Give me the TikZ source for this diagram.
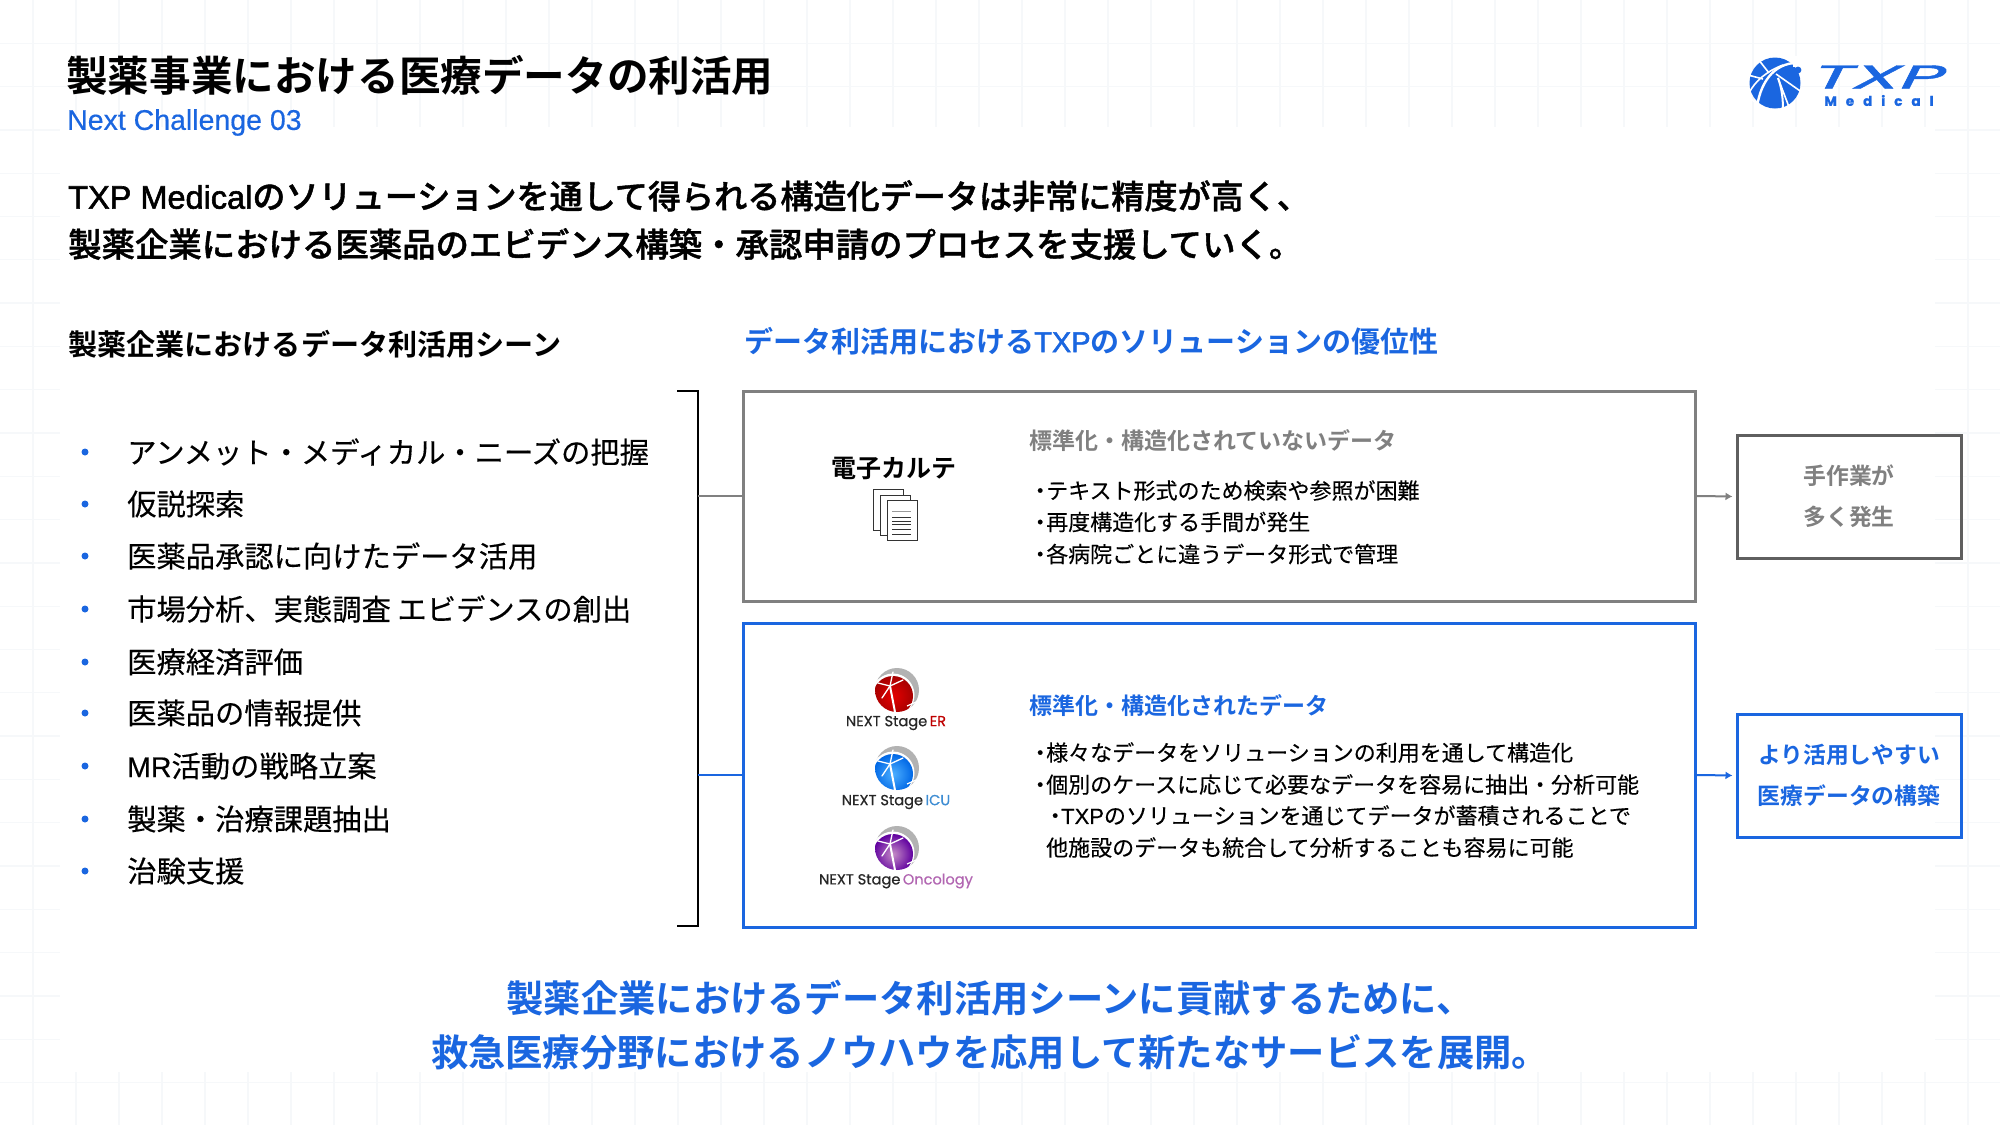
\documentclass[tikz,border=0pt]{standalone}
\usepackage{fontspec}
\setmainfont{Noto Sans CJK JP}
\newfontfamily\jpm[FakeBold=1.2]{Noto Sans CJK JP Medium}
\newfontfamily\jpl[FakeBold=0.25]{Noto Sans CJK JP}
\newfontfamily\jpb{Noto Sans CJK JP Bold}
\newfontfamily\latr{Liberation Sans}
\newfontfamily\latl[FakeBold=0.4]{Liberation Sans}
\newfontfamily\latm[FakeBold=1.8]{Liberation Sans}
\newfontfamily\logof[FakeBold=1.2]{Poppins}
\newfontfamily\stagef[FakeBold=0.6]{Poppins}
\usetikzlibrary{arrows.meta}
\definecolor{bluemain}{HTML}{1A66E0}
\definecolor{gridc}{HTML}{F6F8FA}
\definecolor{greyline}{HTML}{808080}
\definecolor{greybox}{HTML}{5F5F5F}
\newcommand{\fs}[1]{\fontsize{#1}{#1}\selectfont}
\newcommand{\dotb}{・\hspace{-5pt}}
\tikzset{
  txt/.style={inner sep=0pt,anchor=west,text=black},
  titletext/.style={txt,font=\jpb\fs{41.6}},
  leadtext/.style={txt,font=\jpm\fs{33.4}},
  headtext/.style={txt,font=\jpb\fs{29.1}},
  bluehead/.style={txt,font=\jpb\fs{29},text=bluemain},
  listtext/.style={txt,font=\jpl\fs{29.3}},
  listdot/.style={circle,fill=bluemain,inner sep=0pt,minimum size=7pt},
  subhead/.style={txt,font=\jpb\fs{23}},
  bodytext/.style={txt,font=\jpl\fs{22}},
  bottomtext/.style={inner sep=0pt,font=\jpb\fs{37.3},text=bluemain},
  bigbox/.style={draw,line width=3pt,minimum width=952pt,inner sep=0pt},
  sidebox/.style={draw,line width=3pt,minimum width=224pt,minimum height=123pt,inner sep=0pt,align=center,font=\jpb\fs{22.8}},
  link/.style={line width=2pt},
  arrowlink/.style={line width=2pt,-{Latex[length=7pt,width=8pt]},shorten >=3pt},
  bracketline/.style={line width=1.5pt,black},
  sheet/.style={draw=black!80,fill=white,line width=1pt},
  sheetline/.style={black!80,line width=1pt},
  stagelabel/.style={inner sep=0pt,font=\stagef\fs{14.6},text=black!85},
}
% next-stage style globe: #1 centre, #2 light colour, #3 dark colour
\newcommand{\stageglobe}[3]{
  \begin{scope}[shift={#1}]
    \fill[black!30] (0,0) circle (22);
    \fill[white] (-4,5) circle (21.5);
    \begin{scope}
      \clip (0,0) circle (22);
      \shade[inner color=#2,outer color=#3] (-4,6) circle (20);
    \end{scope}
    \draw[white,line width=1.3pt,line cap=round] (-7,-4) -- (-19,-7);
    \draw[white,line width=1.3pt,line cap=round] (-7,-4) -- (-4,-18);
    \draw[white,line width=1.3pt,line cap=round] (-7,-4) -- (6,-10);
    \draw[white,line width=1.3pt,line cap=round] (-7,-4) -- (-15,8);
    \draw[white,line width=2pt] (-7,-4) -- (-2,22);
    \draw[white,line width=1.2pt] (19,12) -- (10,16);
  \end{scope}
}
\begin{document}
\begin{tikzpicture}[x=1pt,y=-1pt]
\useasboundingbox (0,0) rectangle (2000,1125);
\fill[white] (0,0) rectangle (2000,1125);
% faint background grid
\foreach \k in {0,...,45} \draw[gridc,line width=1.3pt] ({33+43*\k},0) -- ({33+43*\k},1125);
\foreach \k in {1,...,25} \draw[gridc,line width=1.3pt] (0,{43.3*\k}) -- (2000,{43.3*\k});
\fill[white] (60,127) rectangle (1935,1072);

% titles
\node[titletext] (title) at (66,75) {製薬事業における医療データの利活用};
\node[txt,font=\latl\fs{28.5},text=bluemain] (sub) at (67,122.5) {Next Challenge 03};
\node[leadtext,font=\jpm\fs{33.1}] (lead1) at (68,196) {{\latm\fs{32.5}TXP Medical}のソリューションを通して得られる構造化データは非常に精度が高く、};
\node[leadtext] (lead2) at (68,244) {製薬企業における医薬品のエビデンス構築・承認申請のプロセスを支援していく。};
\node[headtext] (lefthead) at (68,344) {製薬企業におけるデータ利活用シーン};
\node[bluehead] (righthead) at (744,341) {データ利活用における{\latm\fs{29}TXP}のソリューションの優位性};

% logo
\begin{scope}[shift={(1775,83)}]
  \fill[bluemain] (0,0) circle (25.5);
  \fill[white] (18,-27) rectangle (30,-16);
  \draw[white,line width=2.4pt] (26,-20) .. controls (2,-22) and (-14,-4) .. (-18,24);
  \draw[white,line width=1.6pt] (8,-18) .. controls (-8,-12) and (-20,-2) .. (-26,10);
  \draw[white,line width=1.6pt] (-17,-24) -- (-6,-10);
  \draw[white,line width=1.6pt] (-27,-8) -- (-12,-4);
  \draw[white,line width=2pt] (3,-5) .. controls (7,6) and (8,16) .. (8,28);
  \draw[white,line width=1.6pt] (3,-5) -- (14,24);
  \draw[white,line width=1.6pt] (1,-9) -- (28,10);
  \draw[white,line width=1.4pt] (-26,14) -- (-16,23);
  \fill[bluemain] (23,-13) circle (3.4);
\end{scope}
\node[inner sep=0pt,font=\logof\fs{33},text=bluemain,xscale=2.3,xslant=0.22,transform shape] (txplogo) at (1880,77) {TXP};
\node[inner sep=0pt,font=\logof\bfseries\fs{13.5},text=bluemain] (medlogo) at (1879,100.5) {M\hspace{9pt}e\hspace{9pt}d\hspace{9pt}i\hspace{9pt}c\hspace{9pt}a\hspace{9pt}l};

% list
\foreach \y/\t/\n in {
  452/アンメット・メディカル・ニーズの把握/a,
  504/仮説探索/b,
  556/医薬品承認に向けたデータ活用/c,
  609/市場分析、実態調査 エビデンスの創出/d,
  662/医療経済評価/e,
  713/医薬品の情報提供/f,
  766/{{\latl\fs{28.5}MR}活動の戦略立案}/g,
  819/製薬・治療課題抽出/h,
  871/治験支援/i}{
  \node[listdot] (dot\n) at (85,\y) {};
  \node[listtext] (item\n) at (127,\y) {\t};
}

% boxes
\node[bigbox,draw=greyline,minimum height=210pt] (boxgrey) at (1219,496) {};
\node[bigbox,draw=bluemain,minimum height=304pt] (boxblue) at (1219,775) {};
\node[sidebox,draw=greybox,text=greyline] (sidegrey) at (1849,496.5) {手作業が\\[18pt]多く発生};
\node[sidebox,draw=bluemain,text=bluemain] (sideblue) at (1849,775.5) {より活用しやすい\\[18pt]医療データの構築};

% bracket
\coordinate (bt) at (677,391);
\coordinate (bb) at (677,926);
\coordinate (jg) at (698,496);
\coordinate (jb) at (698,775);
\draw[bracketline] (bt) -- (698,391) -- (698,926) -- (bb);
\draw[link,draw=greyline] (jg) -- (boxgrey.west);
\draw[link,draw=bluemain] (jb) -- (boxblue.west);
\draw[arrowlink,draw=greyline,fill=greyline] (boxgrey.east) -- (sidegrey.west);
\draw[arrowlink,draw=bluemain,fill=bluemain] (boxblue.east) -- (sideblue.west);

% grey box contents
\node[inner sep=0pt,font=\jpb\fs{25},text=black] (emr) at (894,468) {電子カルテ};
\draw[sheet] (873,489) rectangle (903,530);
\draw[sheet] (880,495) rectangle (910,535);
\draw[sheet] (887,500) rectangle (917,540);
\draw[sheetline,black!40] (892,511) -- (911,511);
\foreach \y in {517,521,524,529,534} \draw[sheetline] (892,\y) -- (911,\y);
\node[subhead,text=greyline] (ghead) at (1029,441) {標準化・構造化されていないデータ};
\node[bodytext] (g1) at (1029,490.5) {\dotb テキスト形式のため検索や参照が困難};
\node[bodytext] (g2) at (1029,522) {\dotb 再度構造化する手間が発生};
\node[bodytext] (g3) at (1029,554) {\dotb 各病院ごとに違うデータ形式で管理};

% blue box contents
\stageglobe{(897,690)}{red!90!black}{red!65!black}
\node[stagelabel] (st1) at (896,723) {NEXT Stage\,\textcolor{red!75!black}{ER}};
\stageglobe{(897,768)}{cyan!55!blue!70}{blue!55!cyan!90!black}
\node[stagelabel] (st2) at (896,802) {NEXT Stage\,\textcolor{cyan!60!blue!80}{ICU}};
\stageglobe{(897,848)}{violet!45}{violet!75!blue}
\node[stagelabel] (st3) at (896,881) {NEXT Stage\,\textcolor{violet!60}{Oncology}};
\node[subhead,text=bluemain] (bhead) at (1029,706) {標準化・構造化されたデータ};
\node[bodytext] (b1) at (1029,752.5) {\dotb 様々なデータをソリューションの利用を通して構造化};
\node[bodytext] (b2) at (1029,784.5) {\dotb 個別のケースに応じて必要なデータを容易に抽出・分析可能};
\node[bodytext] (b3) at (1044,815.5) {\dotb{\latl\fs{22}TXP}のソリューションを通じてデータが蓄積されることで};
\node[bodytext] (b4) at (1046,847.5) {他施設のデータも統合して分析することも容易に可能};

% bottom message
\node[bottomtext] (bot1) at (990,998) {製薬企業におけるデータ利活用シーンに貢献するために、};
\node[bottomtext] (bot2) at (990,1052) {救急医療分野におけるノウハウを応用して新たなサービスを展開。};
\end{tikzpicture}
\end{document}
